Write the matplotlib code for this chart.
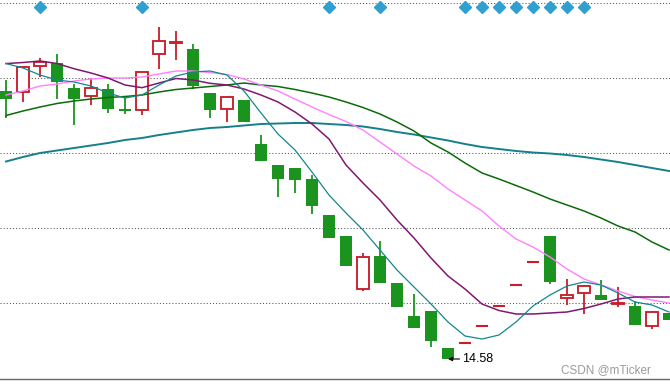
import matplotlib
matplotlib.use("Agg")
import matplotlib.pyplot as plt

# ---- data ----
opens = [17.26, 17.25, 17.51, 17.54, 17.29, 17.21, 17.28, 17.08, 17.07, 17.63,
         17.74, 17.68, 17.24, 17.08, 17.17, 16.73, 16.52, 16.49, 16.38, 16.02,
         15.81, 15.28, 15.61, 15.34, 15.01, 15.06, 14.69, 14.74, 14.91, 15.11,
         15.32, 15.55, 15.81, 15.19, 15.24, 15.22, 15.13, 15.11, 14.91, 15.04]
highs = [17.37, 17.51, 17.59, 17.63, 17.33, 17.39, 17.33, 17.20, 17.45, 17.90,
         17.86, 17.73, 17.24, 17.21, 17.17, 16.82, 16.52, 16.49, 16.42, 16.02,
         15.81, 15.64, 15.76, 15.34, 15.23, 15.06, 14.69, 14.74, 14.91, 15.11,
         15.32, 15.55, 15.81, 15.38, 15.32, 15.37, 15.30, 15.16, 15.06, 15.04]
lows = [16.99, 17.15, 17.40, 17.18, 16.92, 17.12, 17.04, 17.03, 17.02, 17.48,
        17.57, 17.28, 16.99, 16.95, 16.95, 16.56, 16.20, 16.24, 16.03, 15.79,
        15.51, 15.26, 15.34, 15.10, 14.89, 14.70, 14.58, 14.74, 14.91, 15.11,
        15.32, 15.55, 15.33, 15.12, 15.03, 15.17, 15.10, 14.92, 14.88, 14.97]
closes = [17.18, 17.50, 17.55, 17.35, 17.18, 17.29, 17.08, 17.06, 17.45, 17.76,
          17.75, 17.31, 17.07, 17.20, 16.95, 16.56, 16.38, 16.37, 16.11, 15.79,
          15.51, 15.60, 15.34, 15.10, 14.89, 14.76, 14.58, 14.74, 14.91, 15.11,
          15.32, 15.55, 15.35, 15.22, 15.31, 15.17, 15.14, 14.92, 15.05, 14.97]

ma5 = [17.535, 17.49, 17.42, 17.37, 17.35, 17.31, 17.24, 17.19, 17.22, 17.32,
       17.41, 17.45, 17.46, 17.42, 17.26, 17.04, 16.83, 16.67, 16.45, 16.22,
       16.04, 15.87, 15.67, 15.47, 15.30, 15.13, 14.95, 14.81, 14.78, 14.82,
       14.95, 15.11, 15.22, 15.31, 15.35, 15.32, 15.24, 15.15, 15.12, 15.05]
ma10 = [17.534, 17.545, 17.56, 17.535, 17.483, 17.44, 17.39, 17.32, 17.293, 17.34,
        17.385, 17.37, 17.337, 17.32, 17.28, 17.22, 17.15, 17.05, 16.93, 16.78,
        16.52, 16.34, 16.17, 15.97, 15.79, 15.59, 15.41, 15.28, 15.13, 15.065,
        15.03, 15.03, 15.04, 15.05, 15.085, 15.13, 15.18, 15.20, 15.20, 15.20]
ma20 = [17.22, 17.26, 17.31, 17.33, 17.36, 17.38, 17.39, 17.39, 17.40, 17.43,
        17.46, 17.46, 17.445, 17.425, 17.38, 17.32, 17.26, 17.18, 17.10, 17.025,
        16.955, 16.87, 16.75, 16.63, 16.51, 16.41, 16.28, 16.17, 16.06, 15.91,
        15.78, 15.70, 15.60, 15.48, 15.38, 15.32, 15.26, 15.205, 15.17, 15.14]
ma60 = [17.015, 17.06, 17.10, 17.135, 17.16, 17.18, 17.195, 17.205, 17.22, 17.25,
        17.275, 17.29, 17.305, 17.32, 17.34, 17.32, 17.305, 17.275, 17.24, 17.20,
        17.15, 17.095, 17.03, 16.95, 16.86, 16.74, 16.65, 16.54, 16.44, 16.38,
        16.315, 16.25, 16.18, 16.12, 16.06, 15.99, 15.91, 15.85, 15.75, 15.67]
ma120 = [16.555, 16.60, 16.64, 16.665, 16.69, 16.715, 16.74, 16.77, 16.79, 16.82,
         16.845, 16.87, 16.89, 16.90, 16.915, 16.93, 16.935, 16.94, 16.94, 16.93,
         16.92, 16.905, 16.88, 16.85, 16.825, 16.795, 16.765, 16.73, 16.70, 16.68,
         16.66, 16.645, 16.635, 16.62, 16.60, 16.575, 16.55, 16.52, 16.49, 16.46]

signal_idx = [2, 8, 19, 22, 27, 28, 29, 30, 31, 32, 33, 34]
signal_level = 18.10
grid_levels = [18.14, 17.39, 16.64, 15.89, 15.14]
low_label = "14.58"
low_idx = 26
low_value = 14.58
watermark = "CSDN @mTicker"

# ---- styles ----
UP = "#C81E28"
DOWN = "#1A941E"

fig = plt.figure(figsize=(6.7, 3.84), dpi=100)
ax = fig.add_axes([0, 5 / 384, 1, 379 / 384])
ax.set_xlim(-6 / 17, 664 / 17)
ax.set_ylim(14.38, 18.17)
for s in ("top", "left", "right"):
    ax.spines[s].set_visible(False)
ax.spines["bottom"].set_color("#6a6a6a")
ax.spines["bottom"].set_linewidth(1.0)
ax.set_xticks([])
ax.set_yticks([])

for g in grid_levels:
    ax.axhline(g, color="#555555", lw=0.75, linestyle=(0, (1, 2)), zorder=1)

x = list(range(len(opens)))

# candles
for i in x:
    o, h, l, c = opens[i], highs[i], lows[i], closes[i]
    up = c >= o
    col = UP if up else DOWN
    ax.vlines(i, l, h, color=col, lw=1.3, zorder=2)
    if abs(c - o) < 1e-9:
        ax.hlines(o, i - 0.38, i + 0.38, color=col, lw=1.5, zorder=3)
    elif up:
        ax.bar(i, c - o, bottom=o, width=0.68, facecolor="white",
               edgecolor=col, linewidth=1.35, zorder=3)
    else:
        ax.bar(i, o - c, bottom=c, width=0.76, facecolor=col,
               edgecolor=col, linewidth=0, zorder=3)

# moving averages
ax.plot(x, ma120, color="#14808C", lw=1.4, zorder=4)
ax.plot(x, ma60, color="#0B6B0B", lw=1.1, zorder=4)
ax.plot(x, ma20, color="#FF80FF", lw=1.0, zorder=4)
ax.plot(x, ma10, color="#801870", lw=1.1, zorder=4)
ax.plot(x, ma5, color="#12888C", lw=0.9, zorder=4)

# signals
ax.plot(signal_idx, [signal_level] * len(signal_idx), linestyle="none",
        marker="D", ms=6, color="#30A0D0", mec="#30A0D0", zorder=5)

# low annotation
ax.annotate(low_label, xy=(low_idx, low_value), xytext=(low_idx + 0.84, low_value),
            va="center", ha="left", fontsize=9, family="Liberation Sans",
            color="black",
            arrowprops=dict(arrowstyle="-|>", color="black", lw=0.8,
                            shrinkA=0, shrinkB=0, mutation_scale=6),
            zorder=6)

fig.text(561 / 670, 1 - 373 / 384, watermark, fontsize=8.5,
         family="Liberation Sans", color="#9a9a9a", ha="left", va="baseline")

fig.savefig("out.png", dpi=100)
